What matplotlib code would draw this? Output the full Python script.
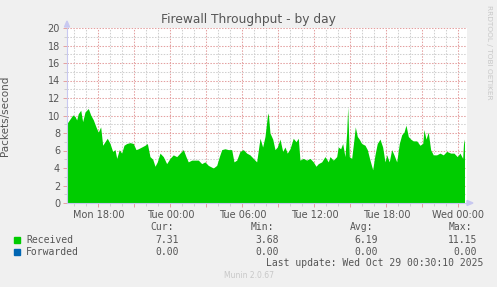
import matplotlib
matplotlib.use("Agg")
import matplotlib.pyplot as plt
from matplotlib.ticker import MultipleLocator, FuncFormatter

# ---- data (hours since Monday 00:00, packets/second) ----
hours = [15.375, 15.625, 15.85, 16.04, 16.18, 16.31, 16.52, 16.68, 16.875, 17.15,
         17.35, 17.57, 17.79, 17.98, 18.18, 18.35, 18.54, 18.73, 18.96, 19.18,
         19.375, 19.52, 19.73, 19.93, 20.125, 20.35, 20.625, 20.9, 21.125, 21.32,
         21.6, 21.875, 22.07, 22.29, 22.52, 22.71, 22.9, 23.125, 23.4, 23.68,
         23.96, 24.23, 24.52, 24.79, 25.07, 25.29, 25.48, 25.77, 26.04, 26.32,
         26.6, 26.875, 27.15, 27.57, 27.85, 28.07, 28.27, 28.54, 28.82, 29.1,
         29.29, 29.52, 29.79, 30.07, 30.35, 30.625, 30.9, 31.18, 31.46, 31.68,
         31.875, 32.07, 32.15, 32.29, 32.52, 32.71, 32.9, 33.125, 33.35, 33.54,
         33.73, 33.96, 34.23, 34.46, 34.65, 34.79, 35.07, 35.35, 35.625, 35.9,
         36.125, 36.32, 36.6, 36.875, 37.15, 37.29, 37.57, 37.85, 37.98, 38.18,
         38.35, 38.54, 38.68, 38.77, 38.9, 39.1, 39.29, 39.4, 39.57, 39.73,
         39.93, 40.21, 40.4, 40.625, 40.85, 41.04, 41.23, 41.46, 41.68, 41.875,
         42.02, 42.23, 42.43, 42.625, 42.85, 43.07, 43.27, 43.46, 43.625, 43.82,
         44.02, 44.23, 44.52, 44.79, 45.02, 45.125, 45.29, 45.48, 45.68, 45.9,
         46.18, 46.46, 46.73, 47.02, 47.35, 47.625, 47.9, 48.125, 48.35, 48.42,
         48.5]
received = [9.1, 9.6, 10.06, 9.9, 9.5, 10.2, 10.6, 9.3, 10.4, 10.8,
            10.06, 9.5, 8.7, 8.1, 8.7, 6.6, 7.0, 7.4, 6.8, 5.9,
            6.1, 5.1, 6.1, 5.7, 6.6, 6.8, 6.9, 6.8, 6.1, 6.2,
            6.4, 6.6, 6.8, 5.3, 5.0, 4.2, 4.7, 5.7, 5.3, 4.5,
            5.1, 5.5, 5.3, 5.7, 6.1, 5.3, 4.7, 4.9, 4.9, 4.9,
            4.5, 4.7, 4.3, 4.0, 4.3, 5.3, 6.1, 6.2, 6.1, 6.1,
            4.7, 4.9, 5.9, 6.1, 5.7, 5.5, 5.1, 4.7, 7.4, 6.4,
            7.6, 9.9, 10.3, 8.0, 7.3, 6.1, 6.4, 7.3, 5.9, 6.4,
            5.7, 6.2, 7.4, 7.0, 7.4, 4.9, 5.1, 4.9, 5.1, 4.7,
            4.2, 4.5, 4.7, 5.3, 4.7, 5.3, 4.9, 5.3, 6.4, 6.2,
            6.8, 5.3, 8.0, 11.0, 5.3, 5.1, 7.3, 8.7, 7.6, 7.3,
            6.8, 6.6, 6.1, 4.9, 3.8, 5.5, 6.8, 7.3, 6.4, 4.7,
            5.5, 4.7, 6.1, 5.5, 4.7, 6.8, 7.8, 8.1, 8.9, 7.6,
            7.3, 7.1, 7.1, 6.6, 6.8, 8.4, 7.3, 8.1, 6.1, 5.5,
            5.5, 5.7, 5.5, 5.9, 5.7, 5.7, 5.3, 5.7, 5.1, 6.8,
            7.31]
forwarded = [0.0] * len(hours)

tick_hours = [18, 24, 30, 36, 42, 48]
tick_labels = ["Mon 18:00", "Tue 00:00", "Tue 06:00", "Tue 12:00", "Tue 18:00", "Wed 00:00"]
series_names = ["Received", "Forwarded"]
series_colors = ["#00CC00", "#0066B3"]
stats = {"Received": ["7.31", "3.68", "6.19", "11.15"],
         "Forwarded": ["0.00", "0.00", "0.00", "0.00"]}
stat_headers = ["Cur:", "Min:", "Avg:", "Max:"]

W, H = 497, 287
fig = plt.figure(figsize=(W / 100, H / 100), dpi=100)
fig.patch.set_facecolor("#F0F0F0")

def fx(px):
    return px / W

def fy(py):
    return 1 - py / H

ax = fig.add_axes([fx(67), fy(203), fx(467) - fx(67), fy(28) - fy(203)])
ax.set_facecolor("white")
ax.set_xlim(15.375, 48.71)
ax.set_ylim(0, 20)

ax.fill_between(hours, 0, received, color=series_colors[0], lw=0, zorder=2)
ax.plot(hours, forwarded, color=series_colors[1], lw=0.6, zorder=3)

# grid
ax.xaxis.set_major_locator(MultipleLocator(3))
ax.xaxis.set_minor_locator(MultipleLocator(1))
lab = dict(zip(tick_hours, tick_labels))
ax.xaxis.set_major_formatter(FuncFormatter(lambda v, p: lab.get(int(round(v)), "")))
ax.yaxis.set_major_locator(MultipleLocator(2))
ax.yaxis.set_minor_locator(MultipleLocator(1))
ax.grid(which="major", color="#E4A0A0", linestyle=(0, (1.4, 1.4)), linewidth=0.75, zorder=0)
ax.grid(which="minor", color="#CFCFCF", linestyle=(0, (1.4, 1.4)), linewidth=0.75, zorder=0)
ax.set_axisbelow(True)

ax.tick_params(which="major", length=3, width=0.7, color="#E4A0A0", labelsize=7,
               labelcolor="#555555", pad=2)
ax.tick_params(which="minor", length=2, width=0.7, color="#CFCFCF")
for s in ["top", "right"]:
    ax.spines[s].set_visible(False)
for s in ["left", "bottom"]:
    ax.spines[s].set_color("#C8C8F0")
    ax.spines[s].set_linewidth(0.8)
    ax.spines[s].set_zorder(4)

ax.set_ylabel("Packets/second", fontsize=7.5, color="#555555")
ax.yaxis.set_label_coords((10 - 67) / 400, 0.5)

# arrows at axis ends
fig.patches.append(plt.Polygon([[fx(64.5), fy(27)], [fx(69.5), fy(27)], [fx(67), fy(21)]],
                               closed=True, color="#C8C8F0", transform=fig.transFigure))
fig.patches.append(plt.Polygon([[fx(467), fy(200.5)], [fx(467), fy(205.5)], [fx(473), fy(203)]],
                               closed=True, color="#C8C8F0", transform=fig.transFigure))

fig.text(0.5, fy(19), "Firewall Throughput - by day", ha="center", va="center",
         fontsize=8.8, color="#555555")
fig.text(fx(489), fy(52), "RRDTOOL / TOBI OETIKER", rotation=270, ha="center", va="center",
         fontsize=5.3, color="#C8C8C8")

mono = "DejaVu Sans Mono"
col_right = [179, 279, 378, 477]
for hdr, xr in zip(stat_headers, col_right):
    fig.text(fx(xr - 5), fy(227), hdr, ha="right", va="center", family=mono,
             fontsize=7, color="#555555")
rows_y = [240, 252]
for name, color, yy in zip(series_names, series_colors, rows_y):
    fig.patches.append(plt.Rectangle((fx(14), fy(yy + 3)), fx(6), fy(0) - fy(6),
                                     color=color, transform=fig.transFigure))
    fig.text(fx(26), fy(yy), name, ha="left", va="center", family=mono,
             fontsize=7, color="#555555")
    for v, xr in zip(stats[name], col_right):
        fig.text(fx(xr), fy(yy), v, ha="right", va="center", family=mono,
                 fontsize=7, color="#555555")
fig.text(fx(483), fy(263.5), "Last update: Wed Oct 29 00:30:10 2025", ha="right",
         va="center", family=mono, fontsize=7, color="#555555")
fig.text(0.5, fy(276), "Munin 2.0.67", ha="center", va="center", fontsize=5.5,
         color="#C8C8C8")

fig.savefig("out.png", dpi=100, facecolor=fig.get_facecolor())
